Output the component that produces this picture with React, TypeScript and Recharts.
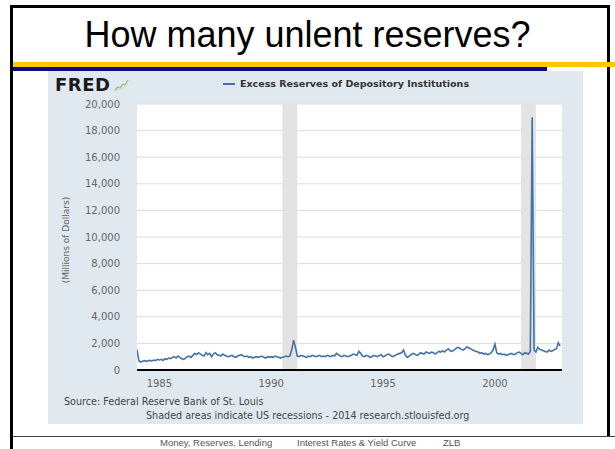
import {
  CartesianGrid,
  ComposedChart,
  Line,
  ReferenceArea,
  XAxis,
  YAxis,
} from "recharts";

// Excess reserves of depository institutions, monthly, millions of dollars
const YEARS = [
  1984, 1985, 1986, 1987, 1988, 1989, 1990, 1991, 1992, 1993, 1994, 1995,
  1996, 1997, 1998, 1999, 2000, 2001, 2002,
];
const R1984 = [1550, 700, 600, 650, 700, 650, 700, 720, 680, 750, 700, 800];
const R1985 = [750, 800, 720, 850, 800, 900, 850, 950, 1000, 900, 1050, 950];
const R1986 = [850, 800, 900, 1000, 1050, 950, 1100, 1250, 1150, 1300, 1200, 1100];
const R1987 = [1050, 1300, 1150, 1250, 1000, 1200, 1300, 1150, 1100, 1050, 1200, 1100];
const R1988 = [1050, 1000, 1050, 1100, 1000, 950, 1050, 1100, 1150, 1050, 1000, 1050];
const R1989 = [950, 1000, 900, 950, 1000, 950, 1000, 1050, 950, 900, 1000, 950];
const R1990 = [1000, 950, 1050, 1000, 950, 900, 950, 1000, 1050, 1000, 1050, 1500];
const R1991 = [2250, 1700, 1050, 1000, 1100, 1050, 1000, 950, 1050, 1000, 1100, 1050];
const R1992 = [1000, 1050, 1100, 1000, 1050, 1000, 1100, 1050, 1000, 1100, 1050, 1250];
const R1993 = [1150, 1050, 1000, 1100, 1050, 1000, 1050, 1100, 1200, 1150, 1100, 1400];
const R1994 = [1250, 1050, 1000, 1100, 1050, 950, 1000, 1100, 1050, 1000, 1100, 1150];
const R1995 = [1000, 1050, 1150, 1200, 1100, 1000, 1050, 1150, 1200, 1250, 1300, 1500];
const R1996 = [1100, 950, 1050, 1150, 1250, 1200, 1100, 1150, 1300, 1250, 1200, 1350];
const R1997 = [1300, 1250, 1350, 1300, 1200, 1300, 1400, 1350, 1450, 1350, 1500, 1600];
const R1998 = [1450, 1400, 1500, 1600, 1700, 1650, 1550, 1500, 1600, 1750, 1650, 1600];
const R1999 = [1500, 1450, 1400, 1350, 1250, 1300, 1200, 1250, 1150, 1200, 1300, 1500];
const R2000 = [1950, 1300, 1200, 1250, 1150, 1200, 1100, 1150, 1200, 1250, 1150, 1200];
const R2001 = [1300, 1350, 1250, 1150, 1300, 1250, 1200, 1400, 19000, 1500, 1350, 1700];
const R2002 = [1550, 1500, 1450, 1400, 1350, 1500, 1400, 1450, 1550, 1600, 2050, 1800];
const RESERVES = [
  R1984, R1985, R1986, R1987, R1988, R1989, R1990, R1991, R1992, R1993,
  R1994, R1995, R1996, R1997, R1998, R1999, R2000, R2001, R2002,
];

const Y_TICKS = [0, 2000, 4000, 6000, 8000, 10000, 12000, 14000, 16000, 18000, 20000];
const X_TICKS = [1985, 1990, 1995, 2000];
// NBER recessions (decimal years)
const RECESSIONS = [
  { from: 1990.5, to: 1991.167 },
  { from: 2001.167, to: 2001.833 },
];

const LINE = "#4572a7";
const VERDANA = "Verdana, 'DejaVu Sans', sans-serif";
const ARIAL = "Arial, 'Liberation Sans', sans-serif";

const data = YEARS.flatMap((y, i) =>
  RESERVES[i].map((v, m) => ({ t: y + m / 12, v })),
);

const fmt = (n: number) => n.toLocaleString("en-US");

export default function App() {
  return (
    <div
      style={{
        position: "absolute",
        left: 0,
        top: 0,
        width: 615,
        height: 449,
        overflow: "hidden",
        background: "#fff",
      }}
    >
      {/* slide frame */}
      <div style={{ position: "absolute", left: 10, top: 5, width: 600, height: 3, background: "#000" }} />
      <div style={{ position: "absolute", left: 10, top: 5, width: 3, height: 444, background: "#000" }} />
      <div style={{ position: "absolute", left: 607, top: 5, width: 3, height: 432, background: "#000" }} />
      <div
        style={{
          position: "absolute",
          left: 0,
          width: 615,
          top: 13,
          textAlign: "center",
          fontFamily: ARIAL,
          fontSize: 36,
          lineHeight: "44px",
          color: "#000",
        }}
      >
        How many unlent reserves?
      </div>
      <div style={{ position: "absolute", left: 13, top: 62, width: 602, height: 5, background: "#fcc800" }} />
      <div style={{ position: "absolute", left: 13, top: 67, width: 534, height: 4, background: "#0a0a7c" }} />

      {/* FRED panel */}
      <div style={{ position: "absolute", left: 48, top: 71, width: 535, height: 353, background: "#e1e9f0" }} />
      <div
        style={{
          position: "absolute",
          left: 55,
          top: 74,
          fontFamily: VERDANA,
          fontWeight: 900,
          fontSize: 18,
          color: "#1a1a1a",
          letterSpacing: 0.5,
        }}
      >
        FRED
      </div>
      <svg style={{ position: "absolute", left: 114, top: 79 }} width={15} height={13}>
        <polyline points="1,11 4,8 6,9 9,5 11,6 14,1" fill="none" stroke="#9dbb7c" strokeWidth={1.3} />
        <polyline points="1,12 5,10 8,10 11,7 14,5" fill="none" stroke="#c9d8b8" strokeWidth={1} />
      </svg>
      <div
        style={{
          position: "absolute",
          left: 223,
          top: 78,
          display: "flex",
          alignItems: "center",
          fontFamily: VERDANA,
          fontWeight: 700,
          fontSize: 9.5,
          color: "#333",
          whiteSpace: "nowrap",
        }}
      >
        <span style={{ display: "inline-block", width: 12, height: 2, background: LINE, marginRight: 5 }} />
        Excess Reserves of Depository Institutions
      </div>
      <div
        style={{
          position: "absolute",
          left: 66,
          top: 240,
          transform: "translate(-50%, -50%) rotate(-90deg)",
          fontFamily: VERDANA,
          fontSize: 9,
          color: "#666",
          whiteSpace: "nowrap",
        }}
      >
        (Millions of Dollars)
      </div>
      <div
        style={{
          position: "absolute",
          left: 64,
          top: 396,
          fontFamily: VERDANA,
          fontSize: 9.6,
          color: "#444",
          whiteSpace: "nowrap",
        }}
      >
        Source: Federal Reserve Bank of St. Louis
      </div>
      <div
        style={{
          position: "absolute",
          left: 146,
          top: 410,
          fontFamily: VERDANA,
          fontSize: 9.6,
          color: "#444",
          whiteSpace: "nowrap",
        }}
      >
        Shaded areas indicate US recessions - 2014 research.stlouisfed.org
      </div>

      <div style={{ position: "absolute", left: 0, top: 0 }}>
        <ComposedChart
          width={615}
          height={449}
          data={data}
          margin={{ top: 104, right: 53, bottom: 59, left: 77 }}
        >
          <CartesianGrid vertical={false} stroke="#dcdcdc" fill="#fff" />
          {RECESSIONS.map((r) => (
            <ReferenceArea
              key={r.from}
              x1={r.from}
              x2={r.to}
              y1={0}
              y2={20000}
              fill="#e3e3e3"
              fillOpacity={1}
              stroke="none"
            />
          ))}
          <XAxis
            dataKey="t"
            type="number"
            domain={[1984, 2003]}
            ticks={X_TICKS}
            height={20}
            tickLine={false}
            axisLine={{ stroke: "#000", strokeWidth: 2 }}
            tick={{ fill: "#666", fontSize: 10, fontFamily: VERDANA }}
            tickMargin={4}
            interval={0}
            allowDataOverflow
          />
          <YAxis
            type="number"
            domain={[0, 20000]}
            ticks={Y_TICKS}
            width={60}
            tickLine={false}
            axisLine={false}
            tickSize={0}
            tickMargin={17}
            tick={{ fill: "#666", fontSize: 10, fontFamily: VERDANA }}
            tickFormatter={fmt}
            interval={0}
          />
          <Line
            type="linear"
            dataKey="v"
            stroke={LINE}
            strokeWidth={1.6}
            dot={false}
            isAnimationActive={false}
          />
        </ComposedChart>
      </div>

      {/* footer */}
      <div style={{ position: "absolute", left: 13, top: 436, width: 602, height: 1, background: "#444" }} />
      <div
        style={{
          position: "absolute",
          top: 437,
          left: 0,
          width: 615,
          height: 12,
          fontFamily: ARIAL,
          fontSize: 9.5,
          lineHeight: "11px",
          color: "#555",
          whiteSpace: "nowrap",
        }}
      >
        <span style={{ position: "absolute", left: 160 }}>Money, Reserves, Lending</span>
        <span style={{ position: "absolute", left: 297 }}>Interest Rates &amp; Yield Curve</span>
        <span style={{ position: "absolute", left: 443 }}>ZLB</span>
      </div>
    </div>
  );
}
